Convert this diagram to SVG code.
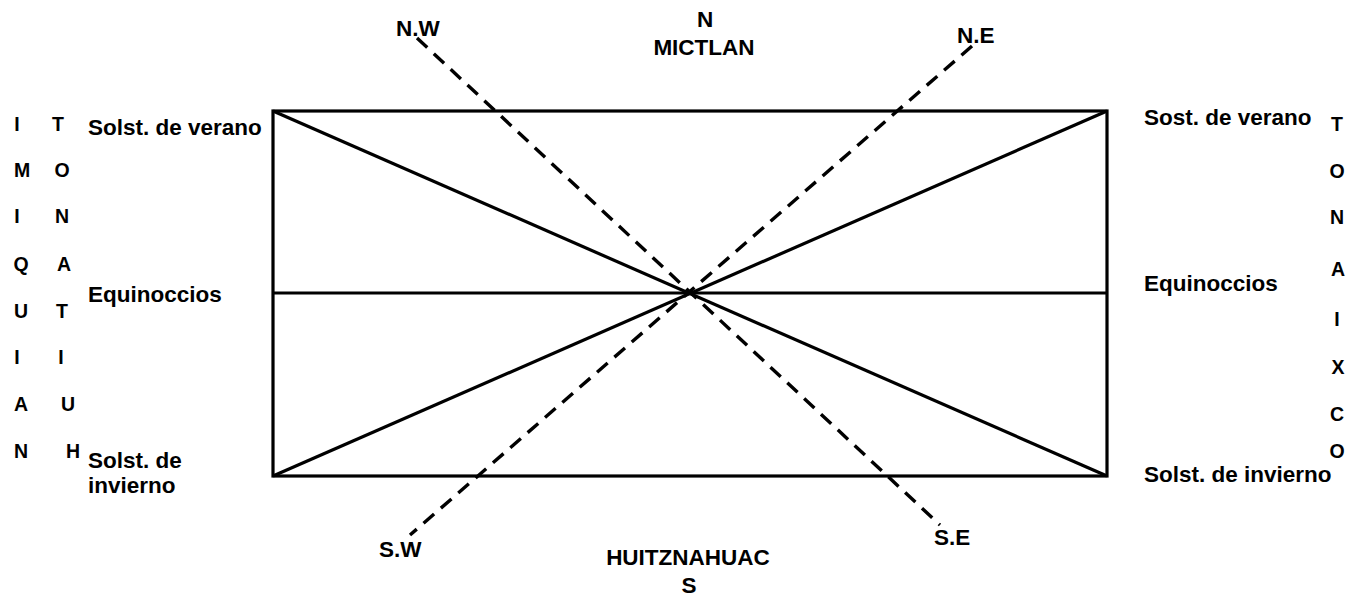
<svg xmlns="http://www.w3.org/2000/svg" width="1350" height="597" viewBox="0 0 1350 597">
<style>
text{font-family:"Liberation Sans",Arial,sans-serif;font-weight:bold;fill:#000}
.l{font-size:22.5px}
.c{font-size:19.5px;text-anchor:middle}
.m{text-anchor:middle}
.s{stroke:#000;stroke-width:3.2;fill:none}
.d{stroke:#000;stroke-width:3.4;fill:none;stroke-dasharray:14 9}
</style>
<rect width="1350" height="597" fill="#fff"/>
<g id="frame">
<rect class="s" x="273" y="111" width="834" height="365"/>
</g>
<g id="connectors">
<line class="s" x1="273" y1="293" x2="1107" y2="293"/>
<line class="s" x1="273" y1="111" x2="1107" y2="476"/>
<line class="s" x1="273" y1="476" x2="1107" y2="111"/>
<line class="d" x1="417" y1="38" x2="940" y2="525"/>
<line class="d" x1="972" y1="46" x2="410" y2="535"/>
</g>
<g id="north"><text class="l m" x="705" y="27">N</text><text class="l m" x="704" y="55">MICTLAN</text></g>
<g id="south"><text class="l m" x="688" y="565">HUITZNAHUAC</text><text class="l m" x="689" y="593">S</text></g>
<g id="nw"><text class="l" x="396" y="36">N.W</text></g>
<g id="ne"><text class="l" x="957" y="43">N.E</text></g>
<g id="sw"><text class="l" x="379" y="557">S.W</text></g>
<g id="se"><text class="l" x="934" y="545">S.E</text></g>
<g id="left-labels">
<text class="l" x="88" y="135">Solst. de verano</text>
<text class="l" x="88" y="302">Equinoccios</text>
<text class="l" x="88" y="468">Solst. de</text>
<text class="l" x="88" y="493">invierno</text>
</g>
<g id="right-labels">
<text class="l" x="1144" y="125">Sost. de verano</text>
<text class="l" x="1144" y="291">Equinoccios</text>
<text class="l" x="1144" y="482">Solst. de invierno</text>
</g>
<g id="imiquian">
<text class="c" x="17" y="131">I</text>
<text class="c" x="22" y="177">M</text>
<text class="c" x="17" y="223">I</text>
<text class="c" x="21" y="271">Q</text>
<text class="c" x="21" y="318">U</text>
<text class="c" x="17" y="364">I</text>
<text class="c" x="21" y="411">A</text>
<text class="c" x="21" y="458">N</text>
</g>
<g id="tonatiuh">
<text class="c" x="58" y="131">T</text>
<text class="c" x="62" y="177">O</text>
<text class="c" x="62" y="223">N</text>
<text class="c" x="64" y="271">A</text>
<text class="c" x="62" y="318">T</text>
<text class="c" x="61" y="364">I</text>
<text class="c" x="68" y="411">U</text>
<text class="c" x="73" y="458">H</text>
</g>
<g id="tonaixco">
<text class="c" x="1337" y="131">T</text>
<text class="c" x="1337" y="178">O</text>
<text class="c" x="1337" y="224">N</text>
<text class="c" x="1338" y="276">A</text>
<text class="c" x="1337" y="326">I</text>
<text class="c" x="1338" y="374">X</text>
<text class="c" x="1337" y="421">C</text>
<text class="c" x="1337" y="458">O</text>
</g>
</svg>
